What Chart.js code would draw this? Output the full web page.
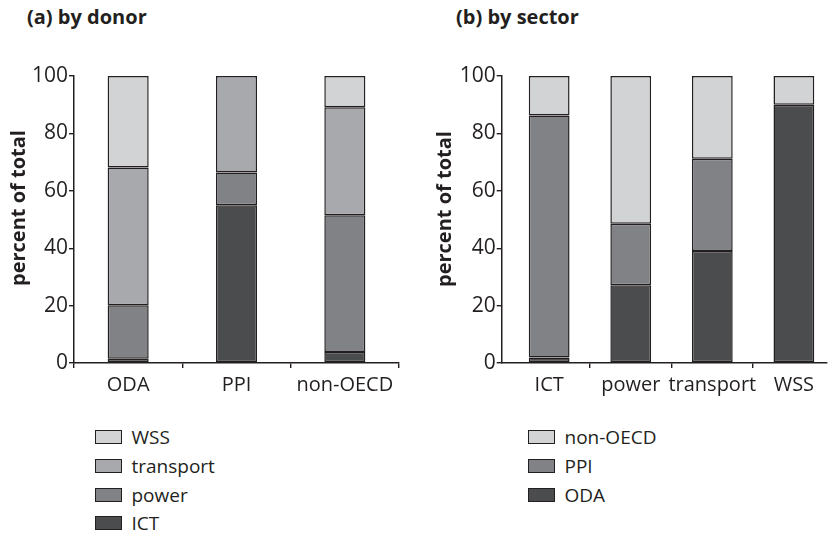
<!DOCTYPE html>
<html>
<head>
<meta charset="utf-8">
<title>Shares by donor and by sector</title>
<script src="https://cdn.jsdelivr.net/npm/chart.js@4.4.1/dist/chart.umd.min.js"></script>
<style>
  body {
    margin: 0;
    width: 830px;
    height: 538px;
    background: #fff;
    position: relative;
    overflow: hidden;
    font-family: "Open Sans", sans-serif;
    color: #231f20;
  }
  .panel-title {
    position: absolute;
    top: 5px;
    font-weight: 700;
    font-size: 20px;
    line-height: 24px;
  }
  .axis-title {
    position: absolute;
    width: 200px;
    height: 24px;
    line-height: 24px;
    text-align: center;
    font-weight: 700;
    font-size: 20px;
    transform: rotate(-90deg);
    white-space: nowrap;
  }
  canvas { position: absolute; top: 0; }
  .legend { position: absolute; top: 423px; }
  .legend-item {
    display: flex;
    align-items: center;
    height: 28.7px;
    font-size: 19px;
  }
  .legend-box {
    width: 25px;
    height: 12px;
    border: 1px solid #231f20;
    margin-right: 9.5px;
  }
</style>
</head>
<body>

<div class="panel-title" style="left:27px">(a) by donor</div>
<div class="panel-title" style="left:456px">(b) by sector</div>

<canvas id="donorChart" width="415" height="410" style="left:0"></canvas>
<canvas id="sectorChart" width="410" height="410" style="left:420px"></canvas>

<div class="axis-title" style="left:-82px; top:196px">percent of total</div>
<div class="axis-title" style="left:344px; top:197px">percent of total</div>

<div class="legend" id="donorLegend" style="left:95px"></div>
<div class="legend" id="sectorLegend" style="left:528px"></div>

<script>
// (a) by donor
const donors = ['ODA', 'PPI', 'non-OECD'];
const donorICT = [1.5, 55.0, 3.8];
const donorPower = [18.6, 11.4, 47.7];
const donorTransport = [48.0, 33.6, 37.6];
const donorWSS = [31.9, 0, 10.9];

// (b) by sector
const sectors = ['ICT', 'power', 'transport', 'WSS'];
const sectorODA = [1.9, 27.1, 39.0, 90.0];
const sectorPPI = [84.3, 21.4, 32.2, 0];
const sectorNonOECD = [13.8, 51.5, 28.8, 10.0];

const yTicks = [0, 20, 40, 60, 80, 100];

const INK = '#231f20';
const GREY_LIGHT = '#d1d3d4';
const GREY_MID_LIGHT = '#a7a9ac';
const GREY_MID = '#808285';
const GREY_DARK = '#4b4c4e';

Chart.defaults.font.family = '"Open Sans", sans-serif';
Chart.defaults.color = INK;

function barSet(label, data, color) {
    return {
        label: label,
        data: data,
        backgroundColor: color,
        borderColor: INK,
        borderWidth: 1.5,
        borderSkipped: false
    };
}

function yAxis(width) {
    return {
        stacked: true,
        min: yTicks[0],
        max: yTicks[yTicks.length - 1],
        afterBuildTicks: (scale) => { scale.ticks = yTicks.map(v => ({ value: v })); },
        ticks: { font: { size: 21 }, padding: 1, color: INK },
        grid: { drawOnChartArea: false, drawTicks: true, tickLength: 5, color: INK, lineWidth: 1.4 },
        border: { display: true, color: INK, width: 1.5 },
        // axis title is placed as html text so it can sit where the original has it
        title: { display: false },
        afterFit: (scale) => { scale.width = width; }
    };
}

const xTickStyle = { font: { size: 20 }, padding: 5, color: INK, maxRotation: 0, autoSkip: false };

const donorChart = new Chart(document.getElementById('donorChart'), {
    type: 'bar',
    data: {
        labels: donors,
        datasets: [
            barSet('ICT', donorICT, GREY_DARK),
            barSet('power', donorPower, GREY_MID),
            barSet('transport', donorTransport, GREY_MID_LIGHT),
            barSet('WSS', donorWSS, GREY_LIGHT)
        ]
    },
    options: {
        responsive: false,
        animation: false,
        categoryPercentage: 1,
        barPercentage: 0.379,
        layout: { padding: { top: 76, bottom: 7, left: 0, right: 16 } },
        plugins: { legend: { display: false }, tooltip: { enabled: false } },
        scales: {
            x: {
                stacked: true,
                grid: { drawOnChartArea: false, drawTicks: true, tickLength: 5, color: INK, lineWidth: 1.4 },
                border: { display: true, color: INK, width: 1.5 },
                ticks: xTickStyle,
                afterFit: (scale) => { scale.height = 40; }
            },
            y: yAxis(74)
        }
    }
});

// bars in (b) sit a little right of the middle of each slot, so a linear x scale is used
const sectorChart = new Chart(document.getElementById('sectorChart'), {
    type: 'bar',
    data: {
        datasets: [
            barSet('ODA', sectorODA.map((v, i) => ({ x: i, y: v })), GREY_DARK),
            barSet('PPI', sectorPPI.map((v, i) => ({ x: i, y: v })), GREY_MID),
            barSet('non-OECD', sectorNonOECD.map((v, i) => ({ x: i, y: v })), GREY_LIGHT)
        ]
    },
    options: {
        responsive: false,
        animation: false,
        categoryPercentage: 1,
        barPercentage: 0.5,
        layout: { padding: { top: 76, bottom: 7, left: 0, right: 3 } },
        plugins: { legend: { display: false }, tooltip: { enabled: false } },
        scales: {
            x: {
                type: 'linear',
                stacked: true,
                offset: false,
                min: -0.582,
                max: 3.406,
                afterBuildTicks: (scale) => { scale.ticks = sectors.map((s, i) => ({ value: i })); },
                grid: {
                    offset: true,
                    drawOnChartArea: false,
                    drawTicks: true,
                    tickLength: 5,
                    lineWidth: 1.4,
                    color: (ctx) => ctx.index === 0 ? 'rgba(0,0,0,0)' : INK
                },
                border: { display: true, color: INK, width: 1.5 },
                ticks: Object.assign({}, xTickStyle, { callback: (value) => sectors[value] }),
                afterFit: (scale) => { scale.height = 40; }
            },
            y: yAxis(81.7)
        }
    }
});

function buildLegend(chart, containerId) {
    const container = document.getElementById(containerId);
    container.innerHTML = '';
    chart.data.datasets.slice().reverse().forEach((ds) => {
        const item = document.createElement('div');
        item.className = 'legend-item';
        item.innerHTML = `<span class="legend-box" style="background:${ds.backgroundColor}"></span><span>${ds.label}</span>`;
        container.appendChild(item);
    });
}

buildLegend(donorChart, 'donorLegend');
buildLegend(sectorChart, 'sectorLegend');
</script>
</body>
</html>
